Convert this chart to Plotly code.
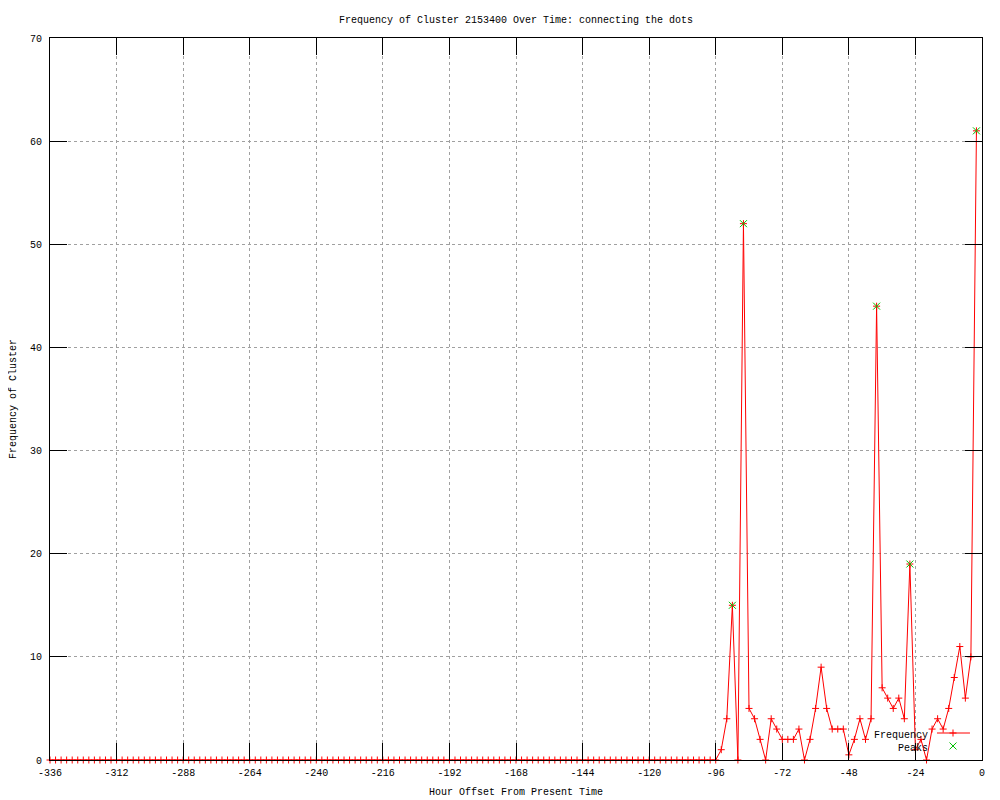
import plotly.graph_objects as go

# hour offsets, one sample every 2 hours
hours = list(range(-336, 0, 2))

# frequency per sample (-336 .. -96 are all zero)
freq_quiet = [
    0, 0, 0, 0, 0, 0, 0, 0, 0, 0, 0, 0, 0, 0, 0, 0, 0, 0, 0, 0,
    0, 0, 0, 0, 0, 0, 0, 0, 0, 0, 0, 0, 0, 0, 0, 0, 0, 0, 0, 0,
    0, 0, 0, 0, 0, 0, 0, 0, 0, 0, 0, 0, 0, 0, 0, 0, 0, 0, 0, 0,
    0, 0, 0, 0, 0, 0, 0, 0, 0, 0, 0, 0, 0, 0, 0, 0, 0, 0, 0, 0,
    0, 0, 0, 0, 0, 0, 0, 0, 0, 0, 0, 0, 0, 0, 0, 0, 0, 0, 0, 0,
    0, 0, 0, 0, 0, 0, 0, 0, 0, 0, 0, 0, 0, 0, 0, 0, 0, 0, 0, 0,
    0,
]
# -94 .. -2
freq_active = [
    1, 4, 15, 0, 52, 5, 4, 2, 0, 4, 3, 2, 2, 2, 3, 0, 2, 5, 9, 5,
    3, 3, 3, 0.5, 2, 4, 2, 4, 44, 7, 6, 5, 6, 4, 19, 1, 2, 0, 3, 4,
    3, 5, 8, 11, 6, 10, 61,
]
frequency = freq_quiet + freq_active

peak_hours = [-90, -86, -38, -26, -2]
peak_values = [15, 52, 44, 19, 61]

x_ticks = [-336, -312, -288, -264, -240, -216, -192, -168, -144, -120, -96, -72, -48, -24, 0]
x_labels = ["-336", "-312", "-288", "-264", "-240", "-216", "-192", "-168",
            "-144", "-120", "-96", "-72", "-48", "-24", "0"]
y_ticks = [0, 10, 20, 30, 40, 50, 60, 70]

RED = "#ff0000"
GREEN = "#00c000"
FONT = dict(family="Liberation Mono, DejaVu Sans Mono, monospace", size=10, color="black")

# the page body adds an 8px margin, so the figure is 8px smaller than the window
PAD = 8

fig = go.Figure()

fig.add_trace(go.Scatter(
    x=hours, y=frequency, mode="lines+markers", name="Frequency",
    line=dict(color=RED, width=1),
    marker=dict(symbol="cross-thin", size=5, line=dict(color=RED, width=1)),
    cliponaxis=False, showlegend=False,
))
fig.add_trace(go.Scatter(
    x=peak_hours, y=peak_values, mode="markers", name="Peaks",
    marker=dict(symbol="x-thin", size=7, line=dict(color=GREEN, width=1)),
    cliponaxis=False, showlegend=False,
))

# gnuplot-style key (text on the left, sample on the right)
fig.add_trace(go.Scatter(
    x=[0.9517, 0.9871], y=[0.0374, 0.0374], mode="lines",
    line=dict(color=RED, width=1), xaxis="x2", yaxis="y2",
    showlegend=False, hoverinfo="skip",
))
fig.add_trace(go.Scatter(
    x=[0.9689], y=[0.0374], mode="markers",
    marker=dict(symbol="cross-thin", size=5, line=dict(color=RED, width=1)),
    xaxis="x2", yaxis="y2", showlegend=False, hoverinfo="skip",
))
fig.add_trace(go.Scatter(
    x=[0.9689], y=[0.0194], mode="markers",
    marker=dict(symbol="x-thin", size=7, line=dict(color=GREEN, width=1)),
    xaxis="x2", yaxis="y2", showlegend=False, hoverinfo="skip",
))

fig.update_layout(
    width=1000 - PAD, height=800 - PAD,
    margin=dict(l=50 - PAD, r=18, t=38 - PAD, b=40, autoexpand=False),
    paper_bgcolor="white", plot_bgcolor="white",
    font=FONT,
    xaxis=dict(
        range=[-336, 0], tickvals=x_ticks, ticktext=x_labels,
        ticks="inside", ticklen=17, tickcolor="black", tickwidth=1,
        ticklabelstandoff=3,
        showline=True, linecolor="black", linewidth=1, mirror="ticks",
        showgrid=True, gridcolor="#a0a0a0", griddash="dot", gridwidth=1,
        zeroline=False, layer="above traces",
    ),
    yaxis=dict(
        range=[0, 70], tickvals=y_ticks,
        ticks="inside", ticklen=17, tickcolor="black", tickwidth=1,
        ticklabelstandoff=5,
        showline=True, linecolor="black", linewidth=1, mirror="ticks",
        showgrid=True, gridcolor="#a0a0a0", griddash="dot", gridwidth=1,
        zeroline=False, layer="above traces",
    ),
    xaxis2=dict(range=[0, 1], overlaying="x", visible=False),
    yaxis2=dict(range=[0, 1], overlaying="y", visible=False),
    annotations=[
        dict(text="Frequency of Cluster 2153400 Over Time: connecting the dots",
             xref="paper", yref="paper", x=0.5, y=(760 - 21) / 722,
             xanchor="center", yanchor="middle", showarrow=False),
        dict(text="Hour Offset From Present Time",
             xref="paper", yref="paper", x=0.5, y=(760 - 793) / 722,
             xanchor="center", yanchor="middle", showarrow=False),
        dict(text="Frequency of Cluster", textangle=-90,
             xref="paper", yref="paper", x=(13 - 50) / 932, y=0.5,
             xanchor="center", yanchor="middle", showarrow=False),
        dict(text="Frequency", xref="paper", yref="paper",
             x=0.9442, y=(760 - 735) / 722, xanchor="right", yanchor="middle", showarrow=False),
        dict(text="Peaks", xref="paper", yref="paper",
             x=0.9442, y=(760 - 748) / 722, xanchor="right", yanchor="middle", showarrow=False),
    ],
)

fig.write_html("out.html")
